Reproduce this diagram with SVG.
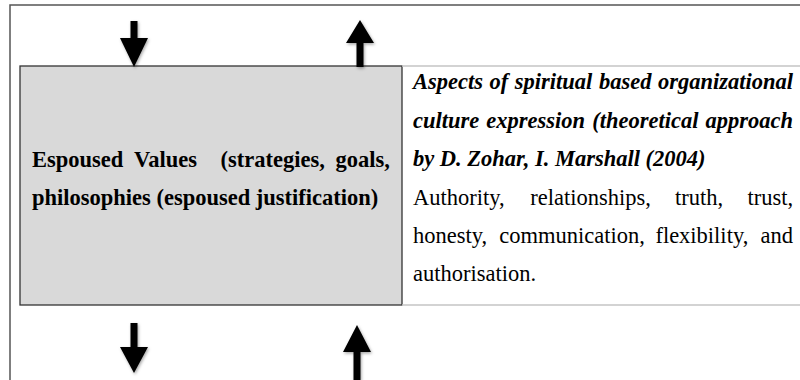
<svg xmlns="http://www.w3.org/2000/svg" width="800" height="380" viewBox="0 0 800 380">
  <style>
    .serif { font-family: "Liberation Serif", "Times New Roman", serif; font-size: 22.5px; fill: #000; }
    .b { font-weight: bold; }
    .bi { font-weight: bold; font-style: italic; }
    .frame { fill: none; stroke: #555; stroke-width: 1.5; }
    .box { fill: #d9d9d9; stroke: #333; stroke-width: 1.3; }
    .rule { stroke: #c4c4c4; stroke-width: 1.3; }
    .arrow { fill: #000; filter: url(#shadow); }
  </style>
  <defs>
    <filter id="shadow" x="-50%" y="-50%" width="200%" height="200%">
      <feDropShadow dx="1" dy="1.5" stdDeviation="1.5" flood-color="#000" flood-opacity="0.35"/>
    </filter>
  </defs>
  <rect width="800" height="380" fill="#fff"/>
  <g id="frame">
    <path class="frame" d="M10,380 V5 H800"/>
  </g>
  <g id="espoused-values">
    <rect class="box" x="20" y="66" width="382" height="239"/>
    <text class="serif b" y="167">
      <tspan x="32">Espoused</tspan><tspan x="134.1">Values</tspan><tspan x="220.6">(strategies,</tspan><tspan x="335.6">goals,</tspan>
    </text>
    <text class="serif b" x="32" y="205">philosophies (espoused justification)</text>
  </g>
  <g id="aspects">
    <line class="rule" x1="402" y1="66" x2="800" y2="66"/>
    <line class="rule" x1="402" y1="305" x2="800" y2="305"/>
    <text class="serif bi" y="89">
      <tspan x="413">Aspects</tspan><tspan x="489.5">of</tspan><tspan x="514.8">spiritual</tspan><tspan x="598.9">based</tspan><tspan x="657.9">organizational</tspan>
    </text>
    <text class="serif bi" y="127.5">
      <tspan x="413">culture</tspan><tspan x="486.3">expression</tspan><tspan x="592.2">(theoretical</tspan><tspan x="705.5">approach</tspan>
    </text>
    <text class="serif bi" x="413" y="166">by D. Zohar, I. Marshall (2004)</text>
    <text class="serif" y="204.5">
      <tspan x="413">Authority,</tspan><tspan x="530.3">relationships,</tspan><tspan x="675.1">truth,</tspan><tspan x="747.4">trust,</tspan>
    </text>
    <text class="serif" y="243">
      <tspan x="413">honesty,</tspan><tspan x="499.2">communication,</tspan><tspan x="655.4">flexibility,</tspan><tspan x="760.4">and</tspan>
    </text>
    <text class="serif" x="413" y="281">authorisation.</text>
  </g>
  <g id="connectors">
    <polygon class="arrow" points="130.5,21 137.5,21 137.5,38 148,38 134,67 120,38 130.5,38"/>
    <polygon class="arrow" points="360,20 374,43 363.5,43 363.5,67 356.5,67 356.5,43 346,43"/>
    <polygon class="arrow" points="130.5,323 137.5,323 137.5,347 148,347 134,373 120,347 130.5,347"/>
    <polygon class="arrow" points="357,325 371,352 360.5,352 360.5,380 353.5,380 353.5,352 343,352"/>
  </g>
</svg>
